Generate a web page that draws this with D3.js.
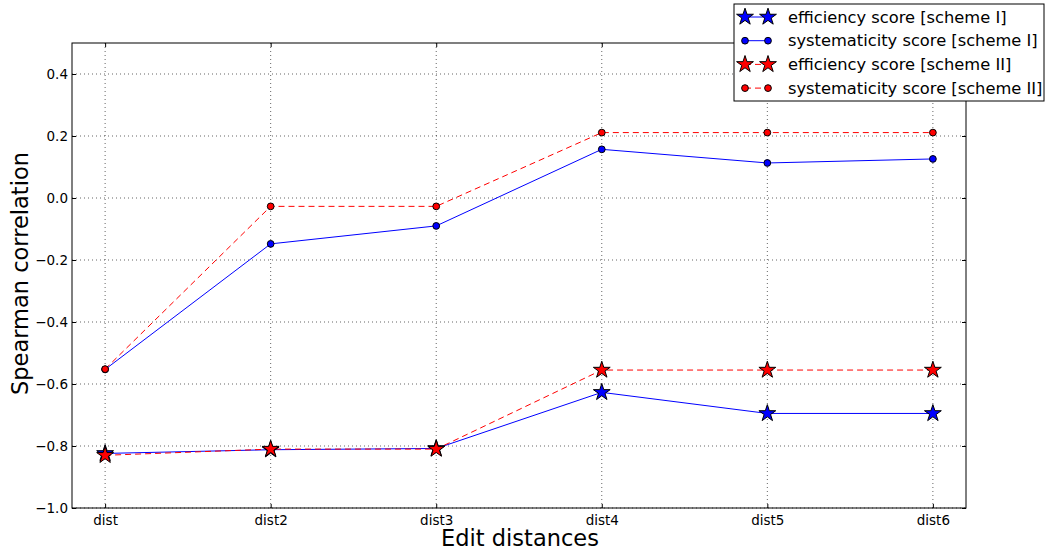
<!DOCTYPE html>
<html>
<head>
<meta charset="utf-8">
<script src="https://cdn.jsdelivr.net/npm/d3@7"></script>
<style>
  body { margin: 0; background: #fff; }
  text { font-family: "DejaVu Sans", sans-serif; }
</style>
</head>
<body>
<div id="chart"></div>
<script>
// data
var categories = ["dist", "dist2", "dist3", "dist4", "dist5", "dist6"];
var efficiencyI = [-0.824, -0.812, -0.808, -0.627, -0.695, -0.695];
var systematicityI = [-0.553, -0.148, -0.090, 0.157, 0.113, 0.126];
var efficiencyII = [-0.830, -0.810, -0.810, -0.555, -0.555, -0.555];
var systematicityII = [-0.552, -0.027, -0.027, 0.211, 0.211, 0.211];
var yTicks = [-1.0, -0.8, -0.6, -0.4, -0.2, 0.0, 0.2, 0.4];

var series = [
  { name: "efficiency score [scheme I]", values: efficiencyI, color: "#0000ff", dash: null, marker: "star" },
  { name: "systematicity score [scheme I]", values: systematicityI, color: "#0000ff", dash: null, marker: "circle" },
  { name: "efficiency score [scheme II]", values: efficiencyII, color: "#ff0000", dash: "6,4", marker: "star" },
  { name: "systematicity score [scheme II]", values: systematicityII, color: "#ff0000", dash: "6,4", marker: "circle" }
];

var svgWidth = 1048;
var svgHeight = 554;
var margin = { top: 43, right: 82, bottom: 46, left: 72 };
var width = svgWidth - margin.left - margin.right;
var height = svgHeight - margin.top - margin.bottom;

var svg = d3.select("#chart")
  .append("svg")
  .attr("width", svgWidth)
  .attr("height", svgHeight);

var chartGroup = svg.append("g")
  .attr("transform", `translate(${margin.left}, ${margin.top})`);

var xScale = d3.scaleLinear().domain([-0.2, 5.2]).range([0, width]);
var yScale = d3.scaleLinear().domain([-1.0, 0.5]).range([height, 0]);

var fmt = function(d) { return d3.format(".1f")(d).replace("-", "\u2212"); };

// grid
chartGroup.append("g").selectAll("line")
  .data(yTicks)
  .enter().append("line")
  .attr("x1", 0).attr("x2", width)
  .attr("y1", d => yScale(d)).attr("y2", d => yScale(d))
  .attr("stroke", "#000").attr("stroke-width", 1)
  .attr("stroke-dasharray", "1,3").attr("opacity", 0.6);

chartGroup.append("g").selectAll("line")
  .data(categories)
  .enter().append("line")
  .attr("x1", (d, i) => xScale(i)).attr("x2", (d, i) => xScale(i))
  .attr("y1", 0).attr("y2", height)
  .attr("stroke", "#000").attr("stroke-width", 1)
  .attr("stroke-dasharray", "1,3").attr("opacity", 0.6);

// axes with inward ticks
var bottomAxis = d3.axisBottom(xScale)
  .tickValues(d3.range(categories.length))
  .tickFormat(i => categories[i])
  .tickSizeInner(-4).tickSizeOuter(0).tickPadding(7);
var topAxis = d3.axisTop(xScale)
  .tickValues(d3.range(categories.length))
  .tickFormat("").tickSizeInner(-4).tickSizeOuter(0);
var leftAxis = d3.axisLeft(yScale)
  .tickValues(yTicks).tickFormat(fmt)
  .tickSizeInner(-4).tickSizeOuter(0).tickPadding(4);
var rightAxis = d3.axisRight(yScale)
  .tickValues(yTicks).tickFormat("")
  .tickSizeInner(-4).tickSizeOuter(0);

var xAxis = chartGroup.append("g")
  .attr("transform", `translate(0, ${height})`)
  .call(bottomAxis);
chartGroup.append("g").call(topAxis);
var yAxis = chartGroup.append("g").call(leftAxis);
chartGroup.append("g").attr("transform", `translate(${width}, 0)`).call(rightAxis);

chartGroup.selectAll(".domain").remove();
chartGroup.selectAll(".tick text")
  .style("font-size", "13.5px")
  .style("font-family", "DejaVu Sans, sans-serif")
  .attr("fill", "#000");

// frame
chartGroup.append("rect")
  .attr("width", width).attr("height", height)
  .attr("fill", "none").attr("stroke", "#000").attr("stroke-width", 1);

// lines and markers
var line = d3.line()
  .x((d, i) => xScale(i))
  .y(d => yScale(d));

var star = d3.symbol().type(d3.symbolStar).size(88);
var dot = d3.symbol().type(d3.symbolCircle).size(36);

series.forEach(function(s) {
  chartGroup.append("path")
    .datum(s.values)
    .attr("d", line)
    .attr("fill", "none")
    .attr("stroke", s.color)
    .attr("stroke-width", 1)
    .attr("stroke-dasharray", s.dash);
});

series.forEach(function(s) {
  chartGroup.append("g").selectAll("path")
    .data(s.values)
    .enter().append("path")
    .attr("d", s.marker === "star" ? star : dot)
    .attr("transform", (d, i) => `translate(${xScale(i)}, ${yScale(d)})`)
    .attr("fill", s.color)
    .attr("stroke", "#000")
    .attr("stroke-width", 1);
});

// axis labels
svg.append("text")
  .attr("x", margin.left + width / 2 + 1)
  .attr("y", 546)
  .attr("text-anchor", "middle")
  .style("font-size", "22.5px")
  .text("Edit distances");

svg.append("text")
  .attr("transform", `translate(28, ${margin.top + height / 2 - 2}) rotate(-90)`)
  .attr("text-anchor", "middle")
  .style("font-size", "22.5px")
  .text("Spearman correlation");

// legend
var legend = svg.append("g").attr("transform", "translate(734, 4)");
legend.append("rect")
  .attr("width", 310).attr("height", 97)
  .attr("fill", "#fff").attr("stroke", "#000").attr("stroke-width", 1);

series.forEach(function(s, i) {
  var row = legend.append("g").attr("transform", `translate(0, ${13 + i * 23.7})`);
  row.append("line")
    .attr("x1", 11).attr("x2", 34)
    .attr("stroke", s.color).attr("stroke-width", 1)
    .attr("stroke-dasharray", s.dash);
  [11, 34].forEach(function(x) {
    row.append("path")
      .attr("d", s.marker === "star" ? star : dot)
      .attr("transform", `translate(${x}, 0)`)
      .attr("fill", s.color)
      .attr("stroke", "#000")
      .attr("stroke-width", 1);
  });
  row.append("text")
    .attr("x", 54).attr("y", 5.5)
    .style("font-size", "16.3px")
    .text(s.name);
});
</script>
</body>
</html>
